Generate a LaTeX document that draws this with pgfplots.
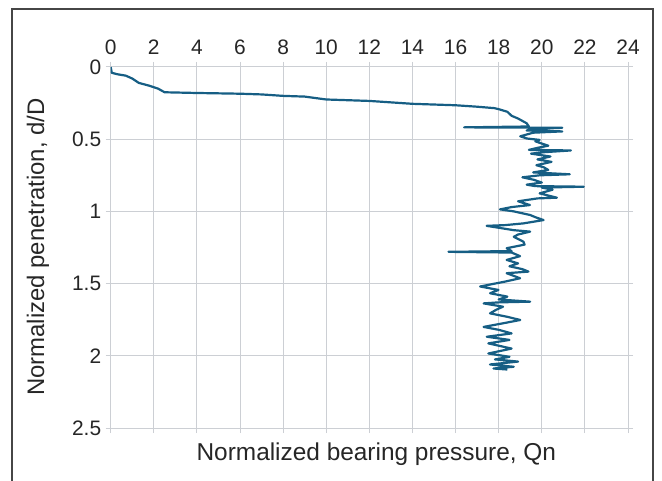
\documentclass[border=0pt]{standalone}
\usepackage{fontspec}
\setmainfont{Liberation Sans}
\usepackage{pgfplots}
\pgfplotsset{compat=1.18}
\definecolor{curve}{RGB}{22,94,132}
\definecolor{gridc}{RGB}{204,207,212}
\definecolor{framec}{RGB}{70,70,70}
\begin{document}
\begin{tikzpicture}[x=1bp,y=1bp]
\useasboundingbox (0,0) rectangle (662,481);
\draw[framec, line width=1.3bp] (12,-5) -- (12,472) -- (653,472) -- (653,-5);
\node[rotate=90, font=\fontsize{24}{26}\selectfont, text=black!85] at (38,234) {Normalized penetration, d/D};
\begin{axis}[
  at={(110.7bp,53bp)}, anchor=south west,
  scale only axis, width=517.3bp, height=361bp,
  xmin=0, xmax=24, ymin=0, ymax=2.5,
  y dir=reverse,
  xtick={0,2,...,24}, ytick={0,0.5,1,1.5,2,2.5},
  xticklabel pos=right,
  grid=major,
  grid style={gridc, line width=1bp},
  axis line style={gridc, line width=1bp},
  tick style={gridc, line width=1bp},
  tick align=outside, major tick length=5bp,
  /pgf/number format/assume math mode=true,
  ticklabel style={font=\fontsize{21}{23}\selectfont, text=black!85},
  xticklabel style={yshift=4bp},
  yticklabel style={xshift=-1bp},
  xlabel={Normalized bearing pressure, Qn},
  label style={font=\fontsize{24.5}{27}\selectfont, text=black!85},
  xlabel style={at={(axis description cs:0.5,0)}, anchor=north, yshift=-11bp, xshift=7bp},
]
\addplot[curve, line width=2.2bp, no markers, line join=round] coordinates {
(0,0) (0.05,0.04) (0.3,0.05) (0.7,0.06) (1.0,0.08) (1.3,0.11) (1.8,0.13) (2.2,0.15) (2.5,0.175)
(4,0.18) (6,0.185) (7,0.19) (8,0.2) (9,0.205) (10,0.225) (11,0.23) (12,0.235) (13,0.245) (14,0.255)
(15,0.26) (16,0.265) (17,0.275) (17.8,0.285) (18.0,0.292) (18.4,0.31) (18.6,0.338) (18.9,0.357)
(19.3,0.39) (19.4,0.412) (16.4,0.418) (20.95,0.421) (19.5,0.43) (19.3,0.44) (20.95,0.446) (19.6,0.455)
(19.0,0.48) (19.3,0.495) (19.9,0.505) (19.7,0.515) (20.0,0.53) (20.3,0.545) (19.8,0.56) (19.4,0.574)
(21.35,0.578) (20.1,0.59) (19.5,0.6) (20.4,0.62) (19.8,0.64) (20.45,0.657) (19.75,0.68) (20.1,0.695)
(20.3,0.713) (19.6,0.73) (21.3,0.743) (19.9,0.75) (19.1,0.764) (19.6,0.78) (20.0,0.80) (19.3,0.815)
(19.7,0.825) (21.95,0.829) (20.0,0.835) (20.5,0.85) (19.9,0.875) (20.3,0.89) (20.7,0.905) (19.8,0.91)
(18.9,0.93) (19.45,0.956) (18.6,0.97) (18.06,0.986) (18.7,1.0) (19.46,1.025) (19.7,1.04) (20.08,1.06)
(19.15,1.083) (18.3,1.095) (17.44,1.1) (18.7,1.13) (19.46,1.14) (18.9,1.16) (18.7,1.176) (19.15,1.21)
(19.2,1.23) (18.37,1.255) (18.6,1.275) (15.67,1.28) (18.6,1.285) (18.99,1.31) (18.37,1.336)
(18.9,1.36) (18.5,1.38) (19.1,1.40) (19.38,1.417) (18.37,1.428) (18.99,1.463) (18.3,1.486)
(17.14,1.52) (17.99,1.544) (17.6,1.567) (18.4,1.59) (18.0,1.61) (19.46,1.625) (18.0,1.63) (17.3,1.637)
(18.2,1.66) (17.9,1.68) (17.6,1.706) (18.4,1.73) (19.0,1.752) (18.2,1.775) (17.3,1.8) (18.0,1.82)
(18.6,1.845) (17.45,1.868) (18.5,1.89) (17.52,1.914) (18.6,1.95) (17.52,1.984) (18.5,2.007)
(17.83,2.025) (18.9,2.04) (17.6,2.06) (18.7,2.076) (17.76,2.088) (18.4,2.095)
};
\end{axis}
\end{tikzpicture}
\end{document}
